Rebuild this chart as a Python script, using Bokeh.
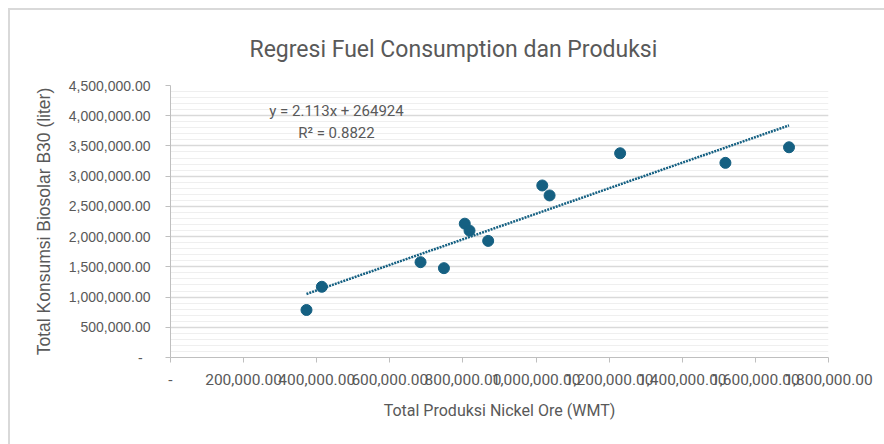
from bokeh.plotting import figure
from bokeh.models import SingleIntervalTicker, CustomJSTickFormatter, Label
from bokeh.embed import file_html
from bokeh.resources import INLINE

# ---- data ----
produksi = [372000, 414000, 684000, 748000, 805000, 818000, 869000,
            1017000, 1037000, 1230000, 1518000, 1692000]
konsumsi = [786000, 1170000, 1577000, 1478000, 2214000, 2099000, 1929000,
            2846000, 2681000, 3379000, 3220000, 3478000]
slope = 2.113
intercept = 264924
r_squared = 0.8822

title_text = "Regresi Fuel Consumption dan Produksi"
x_title = "Total Produksi Nickel Ore (WMT)"
y_title = "Total Konsumsi Biosolar B30 (liter)"

GREY_TXT = "#595959"
BLUE = "#156082"
NARROW = "Roboto"

p = figure(width=874, height=434, output_backend="svg", toolbar_location=None,
           x_range=(0, 1800000), y_range=(0, 4500000),
           frame_width=658, frame_height=272,
           min_border_left=160, min_border_right=56,
           min_border_top=75, min_border_bottom=87)
p.styles = {"margin-left": "8px", "margin-top": "8px",
            "border-left": "2px solid #d9d9d9", "border-top": "2px solid #d9d9d9"}

p.title.text = title_text
p.title.align = "left"
p.title.offset = 79
p.title.text_font = NARROW
p.title.text_font_size = "23px"
p.title.text_font_style = "normal"
p.title.text_color = GREY_TXT
p.title.standoff = 46

p.outline_line_color = None
p.background_fill_color = "white"
p.border_fill_color = "white"

fmt_y = CustomJSTickFormatter(code="""
if (tick == 0) return "-\u00a0\u00a0";
return tick.toLocaleString('en-US', {minimumFractionDigits: 2, maximumFractionDigits: 2});
""")
fmt_x = CustomJSTickFormatter(code="""
if (tick == 0) return "-";
return tick.toLocaleString('en-US', {minimumFractionDigits: 2, maximumFractionDigits: 2});
""")

p.xaxis.ticker = SingleIntervalTicker(interval=200000, num_minor_ticks=0)
p.yaxis.ticker = SingleIntervalTicker(interval=500000, num_minor_ticks=5)
p.xaxis.formatter = fmt_x
p.yaxis.formatter = fmt_y

for ax in (p.xaxis, p.yaxis):
    ax.axis_line_color = "#bfbfbf"
    ax.axis_line_width = 1
    ax.major_tick_line_color = "#bfbfbf"
    ax.major_tick_in = 0
    ax.major_tick_out = 5
    ax.minor_tick_line_color = None
    ax.major_label_text_color = GREY_TXT
    ax.axis_label_text_color = GREY_TXT
    ax.axis_label_text_font_style = "normal"

p.xaxis.major_label_text_font = NARROW
p.xaxis.major_label_text_font_size = "15.5px"
p.xaxis.major_label_standoff = 11
p.yaxis.major_label_text_font = "Liberation Sans"
p.yaxis.major_label_text_font_size = "14px"
p.yaxis.major_label_standoff = 15

p.xaxis.axis_label = x_title
p.xaxis.axis_label_text_font = NARROW
p.xaxis.axis_label_text_font_size = "16px"
p.xaxis.axis_label_standoff = 13
p.yaxis.axis_label = y_title
p.yaxis.axis_label_text_font = "Liberation Sans"
p.yaxis.axis_label_text_font_size = "17.5px"
p.yaxis.axis_label_standoff = 12

p.xgrid.grid_line_color = None
p.ygrid.grid_line_color = "#d9d9d9"
p.ygrid.grid_line_width = 1.5
p.ygrid.minor_grid_line_color = "#efefef"
p.ygrid.minor_grid_line_width = 1

# trendline
x0, x1 = min(produksi), max(produksi)
p.line([x0, x1], [slope * x0 + intercept, slope * x1 + intercept],
       line_color=BLUE, line_width=2.5, line_dash="2 1")

p.scatter(produksi, konsumsi, size=11, color=BLUE)

eq1 = Label(x=454000, y=4086000, text=f"y = {slope}x + {intercept}",
            text_align="center", text_baseline="middle",
            text_font=NARROW, text_font_size="15px", text_color=GREY_TXT)
eq2 = Label(x=454000, y=3706000, text=f"R\u00b2 = {r_squared}",
            text_align="center", text_baseline="middle",
            text_font=NARROW, text_font_size="15px", text_color=GREY_TXT)
p.add_layout(eq1)
p.add_layout(eq2)

open("out.html", "w").write(file_html(p, INLINE))
